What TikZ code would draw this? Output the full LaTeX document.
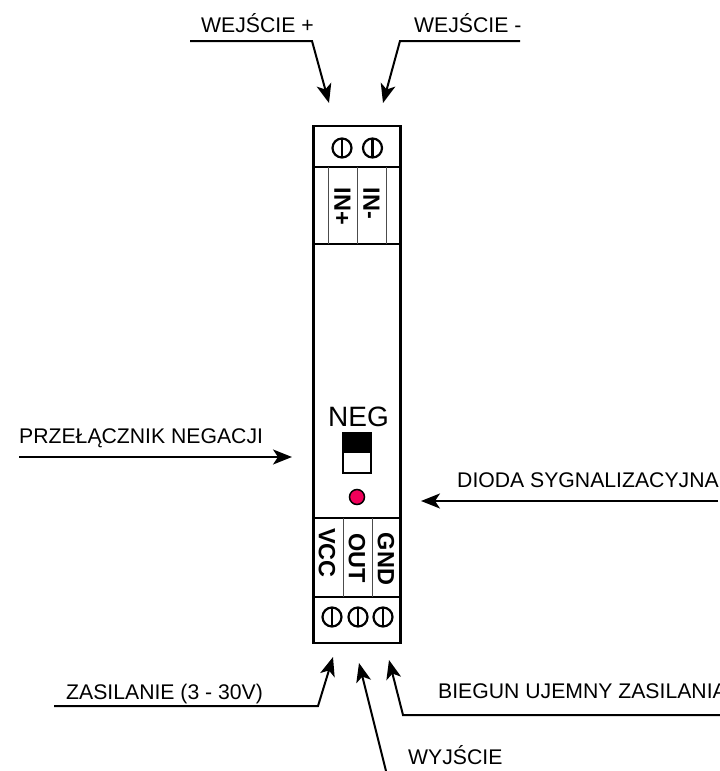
\documentclass[tikz,border=0pt]{standalone}
\usepackage{fontspec}
\setmainfont{Liberation Sans}
\usetikzlibrary{arrows.meta,positioning}
\definecolor{ledred}{HTML}{F0005A}

\begin{document}
\begin{tikzpicture}[
    x = 1pt, %
    y = -1pt, %
    lead/.style = {line width=2pt, -{Stealth[length=19pt,width=15pt,inset=5pt]}}, %
    caption/.style = {inner sep=0pt, anchor=base west, font=\fontsize{21.2}{23}\selectfont}, %
    pin/.style = {inner sep=0pt, rotate=-90, font=\fontsize{23.5}{25}\selectfont\bfseries}, %
    wall/.style = {line width=2.5pt}, %
    slot/.style = {line width=1pt, draw=black!70}, %
    screw/.style = {line width=2.2pt} %
    ]

    \useasboundingbox (0,0) rectangle (720,771);

    % housing
    \node[draw, wall, inner sep=0pt, minimum width=87pt, minimum height=517pt] (body) at (357,384.5) {};
    \draw[wall] (body.west |- 0,167) -- (body.east |- 0,167);
    \draw[wall] (body.west |- 0,244) -- (body.east |- 0,244);
    \draw[wall] (body.west |- 0,518) -- (body.east |- 0,518);
    \draw[wall] (body.west |- 0,597) -- (body.east |- 0,597);

    \foreach \x in {328,357,386}
        \draw[slot] (\x,167) -- (\x,244);
    \foreach \x in {343,372}
        \draw[slot] (\x,518) -- (\x,597);

    % screws
    \foreach \x/\y in {342/148,372.5/148,332/617,358/617,383/617} {
        \draw[screw] (\x,\y) circle (9.5);
        \draw[screw] (\x,\y-9.5) -- (\x,\y+9.5);
    }

    % pins
    \node[pin] (inp) at (342.5,206.5) {IN+};
    \node[pin] (inm) at (371.5,203.5) {IN-};
    \node[pin] (vcc) at (327,553) {VCC};
    \node[pin] (out) at (357,558) {OUT};
    \node[pin] (gnd) at (386,559) {GND};

    % switch and led
    \node[inner sep=0pt, font=\fontsize{28}{30}\selectfont] (neg) at (358.5,417) {NEG};
    \node[draw, line width=1.5pt, fill=white, inner sep=0pt, minimum width=28pt, minimum height=40pt] (sw) at (357,453) {};
    \fill (sw.north west) rectangle (sw.east);
    \node[draw, line width=1.5pt, circle, fill=ledred, inner sep=0pt, minimum size=15pt] (led) at (357,497) {};

    % captions
    \node[caption] (wep) at (201,32) {WEJŚCIE +};
    \node[caption] (wem) at (414,32) {WEJŚCIE -};
    \node[caption] (prz) at (19,443) {PRZEŁĄCZNIK NEGACJI};
    \node[caption] (dio) at (457,487) {DIODA SYGNALIZACYJNA};
    \node[caption] (zas) at (66,699) {ZASILANIE (3 - 30V)};
    \node[caption] (bie) at (438,698) {BIEGUN UJEMNY ZASILANIA};
    \node[caption] (wyj) at (408,764) {WYJŚCIE};

    % leaders
    \coordinate (wepA) at (190,41);
    \coordinate (wepB) at (312,41);
    \coordinate (wepC) at (329,103);
    \coordinate (wemA) at (520,41);
    \coordinate (wemB) at (400,41);
    \coordinate (wemC) at (383,103);
    \coordinate (przA) at (19,457);
    \coordinate (przC) at (292,457);
    \coordinate (dioA) at (718,501);
    \coordinate (dioC) at (421,501);
    \coordinate (zasA) at (54,706);
    \coordinate (zasB) at (318,706);
    \coordinate (zasC) at (333,657);
    \coordinate (bieA) at (720,715);
    \coordinate (bieB) at (403,715);
    \coordinate (bieC) at (389,660);
    \coordinate (wyjA) at (386,771);
    \coordinate (wyjC) at (359,663);

    \draw[lead] (wepA) -- (wepB) -- (wepC);
    \draw[lead] (wemA) -- (wemB) -- (wemC);
    \draw[lead] (przA) -- (przC);
    \draw[lead] (dioA) -- (dioC);
    \draw[lead] (zasA) -- (zasB) -- (zasC);
    \draw[lead] (bieA) -- (bieB) -- (bieC);
    \draw[lead] (wyjA) -- (wyjC);
\end{tikzpicture}
\end{document}
